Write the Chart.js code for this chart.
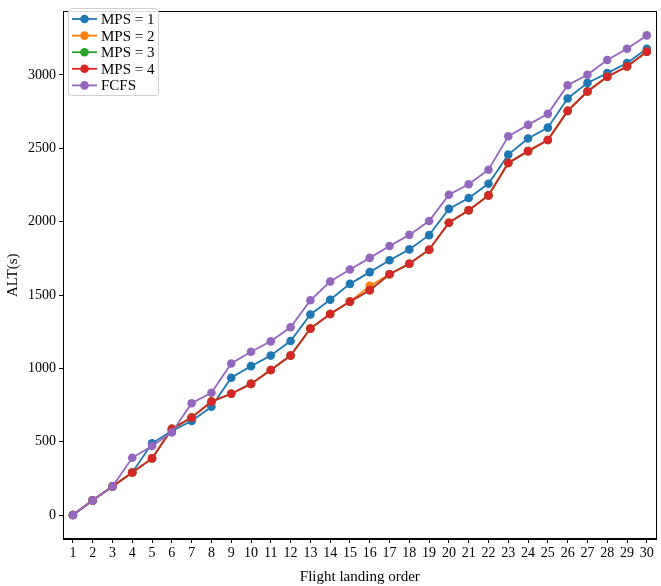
<!DOCTYPE html>
<html>
<head>
<meta charset="utf-8">
<script src="https://cdn.jsdelivr.net/npm/chart.js@4"></script>
<style>
  html, body { margin: 0; padding: 0; background: #fff; }
  #wrap { width: 661px; height: 586px; }
</style>
</head>
<body>
<div id="wrap"><canvas id="altChart" width="661" height="586"></canvas></div>
<script>
// landing order on the x axis
const landingOrder = [1, 2, 3, 4, 5, 6, 7, 8, 9, 10, 11, 12, 13, 14, 15, 16, 17, 18, 19, 20, 21, 22, 23, 24, 25, 26, 27, 28, 29, 30];
const yTicks = [0, 500, 1000, 1500, 2000, 2500, 3000];

// ALT(s) per series
const mps1 = [0, 100, 195, 290, 489, 574, 641, 738, 936, 1015, 1087, 1186, 1367, 1468, 1576, 1656, 1737, 1811, 1908, 2087, 2161, 2258, 2457, 2567, 2641, 2840, 2946, 3013, 3082, 3179];
const mps2 = [0, 100, 195, 290, 386, 587, 664, 773, 827, 894, 989, 1087, 1271, 1370, 1455, 1562, 1641, 1713, 1809, 1993, 2078, 2179, 2400, 2481, 2557, 2755, 2887, 2988, 3058, 3159];
const mps3 = [0, 100, 195, 290, 386, 587, 664, 773, 827, 894, 989, 1087, 1271, 1370, 1455, 1533, 1641, 1713, 1809, 1993, 2078, 2179, 2400, 2481, 2557, 2755, 2887, 2988, 3058, 3159];
const mps4 = [0, 100, 195, 290, 386, 587, 664, 773, 827, 894, 989, 1087, 1271, 1370, 1455, 1533, 1641, 1713, 1809, 1993, 2078, 2179, 2400, 2481, 2557, 2755, 2887, 2988, 3058, 3159];
const fcfs = [0, 100, 195, 390, 470, 563, 762, 834, 1033, 1113, 1184, 1280, 1464, 1592, 1674, 1753, 1834, 1910, 2004, 2183, 2255, 2354, 2582, 2660, 2735, 2930, 3002, 3102, 3179, 3270];

const seriesLabels = ['MPS = 1', 'MPS = 2', 'MPS = 3', 'MPS = 4', 'FCFS'];
const seriesColors = ['#1f77b4', '#ff7f0e', '#2ca02c', '#d62728', '#9467bd'];
const seriesData = [mps1, mps2, mps3, mps4, fcfs];

const FONT = "'Liberation Serif', 'Times New Roman', serif";

const datasets = seriesData.map((vals, i) => ({
  label: seriesLabels[i],
  data: vals.map((v, k) => ({ x: landingOrder[k], y: v })),
  borderColor: seriesColors[i],
  backgroundColor: seriesColors[i],
  borderWidth: 1.8,
  pointRadius: 4.3,
  pointBorderWidth: 0,
  pointHoverRadius: 4.3,
  order: seriesData.length - i   // later series on top, like matplotlib
}));

// top/right spines + in-plot legend
const framePlugin = {
  id: 'frame',
  afterDatasetsDraw(chart) {
    const { ctx, chartArea: a } = chart;
    ctx.save();
    ctx.strokeStyle = '#000';
    ctx.lineWidth = 1;
    ctx.strokeRect(Math.round(a.left) + 0.5, Math.round(a.top) + 0.5,
      Math.round(a.right - a.left) - 1, Math.round(a.bottom - a.top) - 1);

    // legend box
    const bx = 68, by = 8, bw = 90, bh = 87;
    ctx.fillStyle = 'rgba(255,255,255,0.85)';
    ctx.strokeStyle = '#d0d0d0';
    ctx.lineWidth = 1;
    ctx.beginPath();
    ctx.roundRect(bx + 0.5, by + 0.5, bw, bh, 3);
    ctx.fill();
    ctx.stroke();
    ctx.font = '15px ' + FONT;
    ctx.textBaseline = 'middle';
    seriesLabels.forEach((lab, i) => {
      const y = 19 + i * 16.6;
      ctx.strokeStyle = seriesColors[i];
      ctx.lineWidth = 1.8;
      ctx.beginPath();
      ctx.moveTo(72, y);
      ctx.lineTo(97, y);
      ctx.stroke();
      ctx.fillStyle = seriesColors[i];
      ctx.beginPath();
      ctx.arc(84.5, y, 4.3, 0, Math.PI * 2);
      ctx.fill();
      ctx.fillStyle = '#000';
      ctx.fillText(lab, 101, y + 1);
    });
    ctx.restore();
  }
};

const ctx = document.getElementById('altChart').getContext('2d');
new Chart(ctx, {
  type: 'line',
  data: { datasets },
  plugins: [framePlugin],
  options: {
    responsive: false,
    animation: false,
    events: [],
    layout: { padding: { top: 3, right: 2, left: 2, bottom: 0 } },
    plugins: { legend: { display: false }, tooltip: { enabled: false } },
    scales: {
      x: {
        type: 'linear',
        min: 0.5,
        max: 30.5,
        afterBuildTicks(scale) { scale.ticks = landingOrder.map(v => ({ value: v })); },
        afterFit(scale) { scale.height = 47; },
        grid: { display: true, drawOnChartArea: false, drawTicks: true, tickLength: 4, color: '#000' },
        border: { display: true, color: '#000', width: 1 },
        ticks: { color: '#000', font: { family: FONT, size: 14 }, padding: 2, maxRotation: 0, autoSkip: false, callback: v => String(v) },
        title: { display: true, text: 'Flight landing order', color: '#000', font: { family: FONT, size: 15 }, padding: { top: 2, bottom: 0 } }
      },
      y: {
        type: 'linear',
        min: -163.5,
        max: 3433.5,
        afterBuildTicks(scale) { scale.ticks = yTicks.map(v => ({ value: v })); },
        afterFit(scale) { scale.width = 61; },
        grid: { display: true, drawOnChartArea: false, drawTicks: true, tickLength: 4, color: '#000' },
        border: { display: true, color: '#000', width: 1 },
        ticks: { color: '#000', font: { family: FONT, size: 14 }, padding: 3, callback: v => String(v) },
        title: { display: true, text: 'ALT(s)', color: '#000', font: { family: FONT, size: 15 }, padding: { top: 2, bottom: 0 } }
      }
    }
  }
});
</script>
</body>
</html>
